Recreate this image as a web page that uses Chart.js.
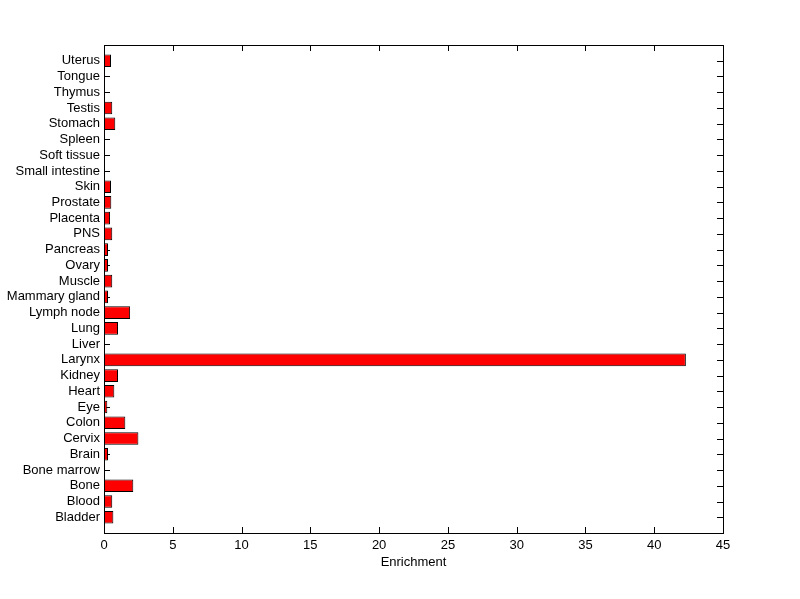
<!DOCTYPE html>
<html>
<head>
<meta charset="utf-8">
<script src="https://cdn.jsdelivr.net/npm/chart.js@4"></script>
<style>
  html, body { margin: 0; padding: 0; background: #fff; }
  #wrap { width: 800px; height: 599px; }
</style>
</head>
<body>
<div id="wrap"><canvas id="myChart" width="800" height="599"></canvas></div>
<script>
// tissues, bottom (index 1) to top (index 30)
const tissues = [
  "Bladder", "Blood", "Bone", "Bone marrow", "Brain", "Cervix", "Colon", "Eye",
  "Heart", "Kidney", "Larynx", "Liver", "Lung", "Lymph node", "Mammary gland",
  "Muscle", "Ovary", "Pancreas", "PNS", "Placenta", "Prostate", "Skin",
  "Small intestine", "Soft tissue", "Spleen", "Stomach", "Testis", "Thymus",
  "Tongue", "Uterus"
];
const enrichment = [
  0.68, 0.6, 2.13, 0, 0.29, 2.5, 1.55, 0.24,
  0.75, 1.02, 42.3, 0, 1.02, 1.9, 0.29,
  0.6, 0.29, 0.29, 0.6, 0.44, 0.53, 0.51,
  0, 0, 0, 0.82, 0.6, 0, 0, 0.51
];
const xTicks = [0, 5, 10, 15, 20, 25, 30, 35, 40, 45];

const ctx = document.querySelector("#myChart").getContext("2d");
const font = { family: "Liberation Sans, Arial, sans-serif", size: 13 };

// inward tick marks (behind the bars) and the box frame
const framePlugin = {
  id: "frame",
  beforeDatasetsDraw(chart) {
    const { ctx, chartArea: a, scales } = chart;
    const len = 6;
    ctx.save();
    ctx.strokeStyle = "#000";
    ctx.lineWidth = 1;
    ctx.beginPath();
    xTicks.forEach((v) => {
      const px = Math.round(scales.x.getPixelForValue(v)) + 0.5;
      ctx.moveTo(px, a.bottom);
      ctx.lineTo(px, a.bottom - len);
      ctx.moveTo(px, a.top);
      ctx.lineTo(px, a.top + len);
    });
    tissues.forEach((t, i) => {
      const py = Math.round(scales.y.getPixelForValue(i + 1)) + 0.5;
      ctx.moveTo(a.left, py);
      ctx.lineTo(a.left + len, py);
      ctx.moveTo(a.right, py);
      ctx.lineTo(a.right - len, py);
    });
    ctx.stroke();
    ctx.restore();
  },
  afterDatasetsDraw(chart) {
    const { ctx, chartArea: a } = chart;
    ctx.save();
    ctx.strokeStyle = "#000";
    ctx.lineWidth = 1;
    ctx.strokeRect(Math.round(a.left) + 0.5, Math.round(a.top) + 0.5,
      Math.round(a.right - a.left), Math.round(a.bottom - a.top));
    ctx.restore();
  },
};

const data = {
  datasets: [
    {
      data: enrichment.map((v, i) => ({ x: v, y: i + 1 })),
      backgroundColor: "#ff0000",
      borderColor: "#000",
      borderWidth: 1,
      borderSkipped: false,
      barPercentage: 0.8,
      categoryPercentage: 1,
    },
  ],
};

const config = {
  type: "bar",
  data: data,
  plugins: [framePlugin],
  options: {
    indexAxis: "y",
    responsive: false,
    animation: false,
    layout: { padding: { left: 0, right: 77, top: 45, bottom: 25 } },
    scales: {
      y: {
        type: "linear",
        min: 0,
        max: 31,
        offset: false,
        afterFit: (s) => { s.width = 104; },
        afterBuildTicks: (s) => {
          s.ticks = tissues.map((t, i) => ({ value: i + 1 }));
        },
        ticks: {
          autoSkip: false,
          padding: 4,
          color: "#000",
          font: font,
          callback: (v) => tissues[v - 1] || "",
        },
        grid: { display: false, drawTicks: false },
        border: { display: false },
      },
      x: {
        type: "linear",
        min: 0,
        max: 45,
        afterFit: (s) => { s.height = 41; },
        ticks: {
          stepSize: 5,
          padding: 5,
          color: "#000",
          font: font,
        },
        grid: { display: false, drawTicks: false },
        border: { display: false },
        title: {
          display: true,
          text: "Enrichment",
          color: "#000",
          font: font,
          padding: { top: 1, bottom: 4 },
        },
      },
    },
    plugins: {
      legend: { display: false },
      tooltip: { enabled: false },
    },
  },
};

const myChart = new Chart(ctx, config);
</script>
</body>
</html>
